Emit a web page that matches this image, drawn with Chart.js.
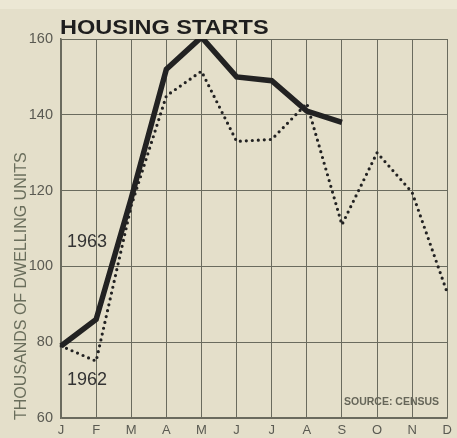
<!DOCTYPE html>
<html>
<head>
<meta charset="utf-8">
<script src="https://cdn.jsdelivr.net/npm/chart.js@4/dist/chart.umd.min.js"></script>
<style>
  html, body { margin: 0; padding: 0; background: #e4dfca; }
  #c { display: block; }
</style>
</head>
<body>
<canvas id="c" width="457" height="438"></canvas>
<script>
const months = ['J', 'F', 'M', 'A', 'M', 'J', 'J', 'A', 'S', 'O', 'N', 'D'];
const starts1963 = [79, 86, 118, 152, 160.5, 150, 149, 141, 138, null, null, null];
const starts1962 = [79, 75, 116, 145, 151.5, 133, 133.5, 143, 111, 130, 119.5, 93];
const yTicks = [60, 80, 100, 120, 140, 160];

const ink = '#222';
const grid = '#6a6b5e';
const label = '#5a5a52';

// title, series names, axis title and source note
const textPlugin = {
    id: 'texts',
    beforeDraw(chart) {
        const c = chart.ctx;
        c.save();
        c.fillStyle = '#e4dfca';
        c.fillRect(0, 0, chart.width, chart.height);
        c.fillStyle = '#ece7d4';
        c.fillRect(0, 0, chart.width, 9);
        c.restore();
    },
    afterDraw(chart) {
        const c = chart.ctx;
        c.save();
        c.fillStyle = '#1e1e1e';
        c.font = 'bold 21px "Liberation Sans", Arial, sans-serif';
        c.textBaseline = 'alphabetic';
        c.save();
        c.translate(60, 34);
        c.scale(1.12, 1);
        c.fillText('HOUSING STARTS', 0, 0);
        c.restore();

        c.fillStyle = '#333';
        c.font = '18px "Liberation Sans", Arial, sans-serif';
        c.fillText('1963', 67, 247);
        c.fillText('1962', 67, 385);

        c.fillStyle = '#666659';
        c.font = 'bold 10.5px "Liberation Sans", Arial, sans-serif';
        c.fillText('SOURCE: CENSUS', 344, 405);

        c.translate(26, 420);
        c.rotate(-Math.PI / 2);
        c.fillStyle = '#6a6e5c';
        c.font = '16px "Liberation Sans", Arial, sans-serif';
        c.fillText('THOUSANDS OF DWELLING UNITS', 0, 0);
        c.restore();
    }
};

new Chart(document.getElementById('c'), {
    type: 'line',
    data: {
        labels: months,
        datasets: [
            {
                label: '1963',
                data: starts1963,
                borderColor: ink,
                borderWidth: 5.5,
                pointRadius: 0,
                tension: 0,
                spanGaps: false,
                borderJoinStyle: 'miter',
            },
            {
                label: '1962',
                data: starts1962,
                borderColor: ink,
                borderWidth: 3.2,
                borderDash: [0, 6],
                borderCapStyle: 'round',
                pointRadius: 0,
                tension: 0,
            }
        ]
    },
    options: {
        responsive: false,
        animation: false,
        layout: { padding: { top: 39, right: 9, left: 0, bottom: 0 } },
        plugins: {
            legend: { display: false },
            tooltip: { enabled: false }
        },
        scales: {
            x: {
                offset: false,
                grid: { color: grid, lineWidth: 1, drawTicks: false },
                border: { color: grid, width: 1.5 },
                ticks: {
                    color: label,
                    padding: 5,
                    maxRotation: 0,
                    autoSkip: false,
                    font: { family: '"Liberation Sans", Arial, sans-serif', size: 13 }
                },
                afterFit(scale) { scale.height = 20; }
            },
            y: {
                min: 60,
                max: 160,
                afterBuildTicks(scale) { scale.ticks = yTicks.map(v => ({ value: v })); },
                grid: { color: grid, lineWidth: 1, drawTicks: false },
                border: { color: grid, width: 1.5 },
                ticks: {
                    color: label,
                    padding: 8,
                    font: { family: '"Liberation Sans", Arial, sans-serif', size: 14.5 }
                },
                afterFit(scale) { scale.width = 61; }
            }
        }
    },
    plugins: [textPlugin]
});
</script>
</body>
</html>
